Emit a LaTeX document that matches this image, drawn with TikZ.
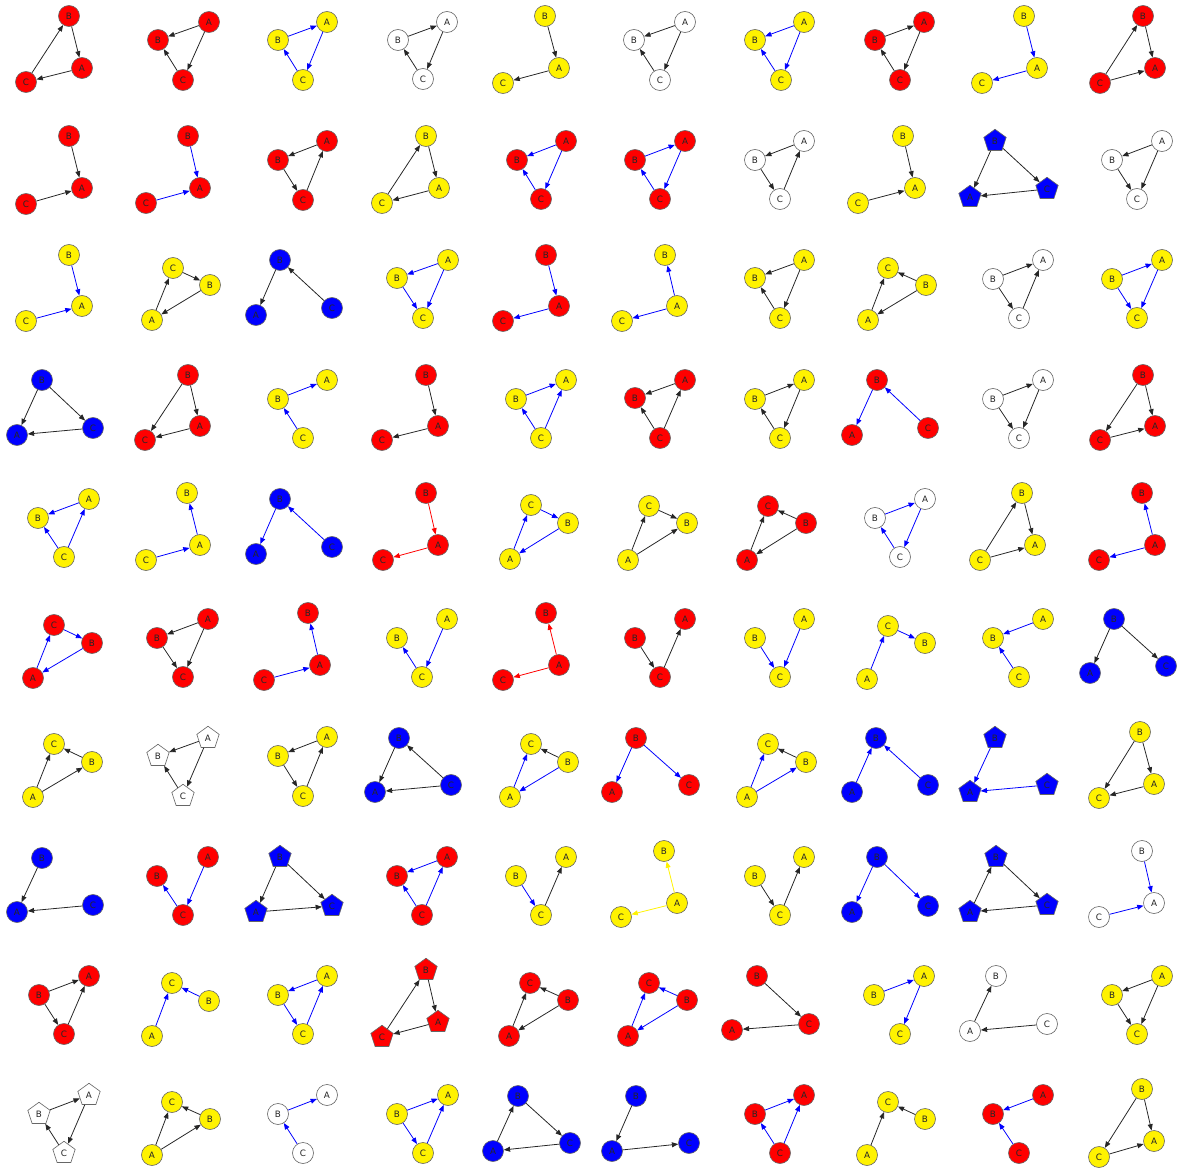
\documentclass[tikz,border=0pt]{standalone}
\usepackage{fontspec}
\setmainfont{DejaVu Sans}
\usetikzlibrary{arrows.meta, shapes.geometric}

% one small graph: name, node style, positions of A, B, C
\newcommand{\tri}[5]{%
  \node[#2] (#1A) at (#3) {A};
  \node[#2] (#1B) at (#4) {B};
  \node[#2] (#1C) at (#5) {C};}
% its arcs: name, arc style, list of from/to
\newcommand{\arcs}[3]{\foreach \p/\q in {#3} \draw[#2] (#1\p) -- (#1\q);}

\begin{document}
\begin{tikzpicture}[x=0.02cm,y=-0.02cm,
    vtx/.style={circle, draw=black!60, line width=0.35pt, minimum size=0.42cm, inner sep=0pt,
      font=\fontsize{5}{6}\selectfont, text=black!85},
    pent/.style={regular polygon, regular polygon sides=5, draw=black!60, line width=0.35pt,
      minimum size=0.47cm, inner sep=0pt, font=\fontsize{5}{6}\selectfont, text=black!85},
    nr/.style={vtx, fill=red}, ny/.style={vtx, fill=yellow},
    nw/.style={vtx, fill=white}, nb/.style={vtx, fill=blue},
    pr/.style={pent, fill=red}, pw/.style={pent, fill=white}, pb/.style={pent, fill=blue},
    arc/.style={-{Triangle[length=3.6pt,width=2.8pt]}, line width=0.45pt},
    ek/.style={arc, black!85}, eb/.style={arc, blue},
    er/.style={arc, red}, ey/.style={arc, yellow}]
  \useasboundingbox (0,0) rectangle (1180,1169);

  % row 1
  \tri{r1c1}{nr}{82,68}{69,16}{26,82}       \arcs{r1c1}{ek}{C/B,B/A,A/C}
  \tri{r1c2}{nr}{209,22}{158,40}{183,80}    \arcs{r1c2}{ek}{A/B,A/C,C/B}
  \tri{r1c3}{ny}{327,22}{278,40}{303,80}    \arcs{r1c3}{eb}{B/A,A/C,C/B}
  \tri{r1c4}{nw}{447,22}{398,40}{423,79}    \arcs{r1c4}{ek}{B/A,A/C,C/B}
  \tri{r1c5}{ny}{559,68}{545,16}{503,83}    \arcs{r1c5}{ek}{B/A,A/C}
  \tri{r1c6}{nw}{685,22}{634,40}{660,80}    \arcs{r1c6}{ek}{A/B,A/C,C/B}
  \tri{r1c7}{ny}{804,22}{755,40}{781,80}    \arcs{r1c7}{eb}{A/B,A/C,C/B}
  \tri{r1c8}{nr}{924,22}{875,40}{900,80}    \arcs{r1c8}{ek}{B/A,A/C,C/B}
  \tri{r1c9}{ny}{1037,68}{1024,16}{982,83}  \arcs{r1c9}{eb}{B/A,A/C}
  \tri{r1c10}{nr}{1155,68}{1143,16}{1100,83} \arcs{r1c10}{ek}{C/B,B/A,C/A}

  % row 2
  \tri{r2c1}{nr}{82,188}{69,136}{26,204}    \arcs{r2c1}{ek}{B/A,C/A}
  \tri{r2c2}{nr}{200,188}{188,136}{146,203} \arcs{r2c2}{eb}{B/A,C/A}
  \tri{r2c3}{nr}{327,141}{278,160}{303,200} \arcs{r2c3}{ek}{A/B,B/C,C/A}
  \tri{r2c4}{ny}{439,188}{426,136}{382,203} \arcs{r2c4}{ek}{C/B,B/A,A/C}
  \tri{r2c5}{nr}{566,141}{517,160}{541,199} \arcs{r2c5}{eb}{A/B,A/C,C/B}
  \tri{r2c6}{nr}{685,141}{635,160}{660,199} \arcs{r2c6}{eb}{B/A,A/C,C/B}
  \tri{r2c7}{nw}{804,141}{755,160}{780,199} \arcs{r2c7}{ek}{A/B,B/C,C/A}
  \tri{r2c8}{ny}{915,188}{903,136}{858,203} \arcs{r2c8}{ek}{B/A,C/A}
  \tri{r2c9}{pb}{970,197}{995,141}{1047,189} \arcs{r2c9}{ek}{B/A,B/C,C/A}
  \tri{r2c10}{nw}{1162,141}{1112,160}{1137,199} \arcs{r2c10}{ek}{A/B,A/C,B/C}

  % row 3
  \tri{r3c1}{ny}{82,306}{69,255}{26,321}    \arcs{r3c1}{eb}{B/A,C/A}
  \tri{r3c2}{ny}{152,320}{210,285}{173,268} \arcs{r3c2}{ek}{A/C,C/B,B/A}
  \tri{r3c3}{nb}{256,315}{280,260}{332,308} \arcs{r3c3}{ek}{B/A,C/B}
  \tri{r3c4}{ny}{448,260}{397,278}{423,318} \arcs{r3c4}{eb}{A/B,A/C,B/C}
  \tri{r3c5}{nr}{559,306}{546,255}{503,321} \arcs{r3c5}{eb}{B/A,A/C}
  \tri{r3c6}{ny}{677,306}{665,255}{622,321} \arcs{r3c6}{eb}{A/B,A/C}
  \tri{r3c7}{ny}{804,260}{755,278}{780,318} \arcs{r3c7}{ek}{A/B,A/C,C/B}
  \tri{r3c8}{ny}{868,320}{926,285}{888,268} \arcs{r3c8}{ek}{A/C,B/C,B/A}
  \tri{r3c9}{nw}{1043,260}{993,279}{1019,318} \arcs{r3c9}{ek}{B/A,B/C,C/A}
  \tri{r3c10}{ny}{1162,260}{1112,279}{1137,318} \arcs{r3c10}{eb}{B/A,A/C,B/C}

  % row 4
  \tri{r4c1}{nb}{17,435}{42,380}{93,428}    \arcs{r4c1}{ek}{B/A,B/C,C/A}
  \tri{r4c2}{nr}{200,426}{188,375}{145,440} \arcs{r4c2}{ek}{B/A,B/C,A/C}
  \tri{r4c3}{ny}{327,380}{278,399}{303,438} \arcs{r4c3}{eb}{B/A,C/B}
  \tri{r4c4}{nr}{438,426}{426,375}{382,440} \arcs{r4c4}{ek}{B/A,A/C}
  \tri{r4c5}{ny}{566,380}{516,399}{541,438} \arcs{r4c5}{eb}{B/A,C/B,C/A}
  \tri{r4c6}{nr}{685,380}{635,398}{660,438} \arcs{r4c6}{ek}{A/B,C/B,C/A}
  \tri{r4c7}{ny}{804,380}{755,399}{780,438} \arcs{r4c7}{ek}{B/A,A/C,C/B}
  \tri{r4c8}{nr}{852,435}{877,380}{928,428} \arcs{r4c8}{eb}{B/A,C/B}
  \tri{r4c9}{nw}{1043,380}{993,399}{1019,438} \arcs{r4c9}{ek}{B/A,B/C,A/C}
  \tri{r4c10}{nr}{1155,426}{1143,375}{1100,440} \arcs{r4c10}{ek}{B/A,B/C,C/A}

  % row 5
  \tri{r5c1}{ny}{89,499}{38,518}{64,557}    \arcs{r5c1}{eb}{A/B,C/B,C/A}
  \tri{r5c2}{ny}{200,545}{187,493}{146,560} \arcs{r5c2}{eb}{A/B,C/A}
  \tri{r5c3}{nb}{256,554}{280,499}{332,547} \arcs{r5c3}{eb}{B/A,C/B}
  \tri{r5c4}{nr}{438,545}{426,493}{383,560} \arcs{r5c4}{er}{B/A,A/C}
  \tri{r5c5}{ny}{510,559}{568,523}{531,505} \arcs{r5c5}{eb}{A/C,C/B,B/A}
  \tri{r5c6}{ny}{628,560}{687,523}{649,506} \arcs{r5c6}{ek}{A/C,C/B,A/B}
  \tri{r5c7}{nr}{747,560}{806,523}{768,506} \arcs{r5c7}{ek}{A/C,B/C,B/A}
  \tri{r5c8}{nw}{925,499}{875,518}{900,557} \arcs{r5c8}{eb}{B/A,A/C,C/B}
  \tri{r5c9}{ny}{1035,545}{1022,493}{980,560} \arcs{r5c9}{ek}{C/B,B/A,C/A}
  \tri{r5c10}{nr}{1155,545}{1142,493}{1099,560} \arcs{r5c10}{eb}{A/B,A/C}

  % row 6
  \tri{r6c1}{nr}{33,678}{92,643}{54,625}    \arcs{r6c1}{eb}{A/C,C/B,B/A}
  \tri{r6c2}{nr}{208,619}{157,638}{183,677} \arcs{r6c2}{ek}{A/B,A/C,B/C}
  \tri{r6c3}{nr}{320,665}{308,613}{264,680} \arcs{r6c3}{eb}{A/B,C/A}
  \tri{r6c4}{ny}{447,619}{397,638}{422,677} \arcs{r6c4}{eb}{A/C,C/B}
  \tri{r6c5}{nr}{559,665}{546,613}{503,680} \arcs{r6c5}{er}{A/B,A/C}
  \tri{r6c6}{nr}{685,619}{635,638}{660,677} \arcs{r6c6}{ek}{B/C,C/A}
  \tri{r6c7}{ny}{804,619}{755,638}{780,677} \arcs{r6c7}{eb}{B/C,A/C}
  \tri{r6c8}{ny}{867,679}{925,643}{888,626} \arcs{r6c8}{eb}{A/C,C/B}
  \tri{r6c9}{ny}{1043,619}{993,638}{1019,677} \arcs{r6c9}{eb}{A/B,C/B}
  \tri{r6c10}{nb}{1090,673}{1114,619}{1166,666} \arcs{r6c10}{ek}{B/A,B/C}

  % row 7
  \tri{r7c1}{ny}{33,797}{92,762}{54,744}    \arcs{r7c1}{ek}{A/C,B/C,A/B}
  \tri{r7c2}{pw}{208,738}{158,756}{183,796} \arcs{r7c2}{ek}{A/B,A/C,C/B}
  \tri{r7c3}{ny}{327,737}{278,756}{303,796} \arcs{r7c3}{ek}{A/B,B/C,C/A}
  \tri{r7c4}{nb}{375,792}{399,738}{451,785} \arcs{r7c4}{ek}{C/B,B/A,C/A}
  \tri{r7c5}{ny}{510,797}{568,762}{531,744} \arcs{r7c5}{eb}{A/C,B/A} \arcs{r7c5}{ek}{B/C}
  \tri{r7c6}{nr}{612,792}{636,738}{689,785} \arcs{r7c6}{eb}{B/A,B/C}
  \tri{r7c7}{ny}{747,797}{806,762}{768,744} \arcs{r7c7}{eb}{A/C,A/B} \arcs{r7c7}{ek}{B/C}
  \tri{r7c8}{nb}{852,792}{876,738}{928,785} \arcs{r7c8}{eb}{A/B,C/B}
  \tri{r7c9}{pb}{970,792}{995,738}{1047,785} \arcs{r7c9}{eb}{B/A,C/A}
  \tri{r7c10}{ny}{1154,784}{1140,732}{1099,798} \arcs{r7c10}{ek}{B/A,B/C,A/C}

  % row 8
  \tri{r8c1}{nb}{17,912}{42,858}{93,905}    \arcs{r8c1}{ek}{B/A,C/A}
  \tri{r8c2}{nr}{208,857}{157,876}{183,915} \arcs{r8c2}{eb}{A/C,C/B}
  \tri{r8c3}{pb}{256,912}{280,857}{332,906} \arcs{r8c3}{ek}{B/A,B/C,A/C}
  \tri{r8c4}{nr}{447,857}{397,876}{422,915} \arcs{r8c4}{eb}{A/B,C/B,C/A}
  \tri{r8c5}{ny}{566,857}{516,876}{541,915} \arcs{r8c5}{eb}{B/C} \arcs{r8c5}{ek}{C/A}
  \tri{r8c6}{ny}{677,903}{664,851}{621,917} \arcs{r8c6}{ey}{A/B,A/C}
  \tri{r8c7}{ny}{804,857}{755,876}{780,915} \arcs{r8c7}{ek}{B/C,C/A}
  \tri{r8c8}{nb}{852,912}{877,857}{928,906} \arcs{r8c8}{eb}{B/A,B/C}
  \tri{r8c9}{pb}{970,912}{996,857}{1047,905} \arcs{r8c9}{ek}{A/B,B/C,C/A}
  \tri{r8c10}{nw}{1154,903}{1142,851}{1099,917} \arcs{r8c10}{eb}{B/A,C/A}

  % row 9
  \tri{r9c1}{nr}{89,976}{39,995}{64,1034}   \arcs{r9c1}{ek}{B/A,B/C,C/A}
  \tri{r9c2}{ny}{152,1036}{209,1001}{172,983} \arcs{r9c2}{eb}{A/C,B/C}
  \tri{r9c3}{ny}{327,976}{278,995}{303,1034} \arcs{r9c3}{eb}{A/B,B/C,C/A}
  \tri{r9c4}{pr}{438,1022}{426,970}{382,1037} \arcs{r9c4}{ek}{C/B,B/A,A/C}
  \tri{r9c5}{nr}{509,1036}{568,1000}{530,983} \arcs{r9c5}{ek}{A/C,B/C,B/A}
  \tri{r9c6}{nr}{628,1036}{687,1000}{649,983} \arcs{r9c6}{eb}{A/C,B/C,B/A}
  \tri{r9c7}{nr}{732,1030}{757,976}{809,1024} \arcs{r9c7}{ek}{B/C,C/A}
  \tri{r9c8}{ny}{924,976}{874,995}{900,1034} \arcs{r9c8}{eb}{B/A,A/C}
  \tri{r9c9}{nw}{970,1031}{996,976}{1047,1024} \arcs{r9c9}{ek}{A/B,C/A}
  \tri{r9c10}{ny}{1162,976}{1112,995}{1137,1034} \arcs{r9c10}{ek}{A/B,A/C,B/C}

  % row 10
  \tri{r10c1}{pw}{89,1095}{39,1114}{64,1153} \arcs{r10c1}{ek}{B/A,A/C,C/B}
  \tri{r10c2}{ny}{152,1155}{210,1119}{172,1102} \arcs{r10c2}{ek}{A/C,B/C,A/B}
  \tri{r10c3}{nw}{327,1095}{278,1114}{303,1153} \arcs{r10c3}{eb}{B/A,C/B}
  \tri{r10c4}{ny}{448,1095}{397,1114}{423,1153} \arcs{r10c4}{eb}{B/A,B/C,C/A}
  \tri{r10c5}{nb}{493,1151}{518,1096}{570,1143} \arcs{r10c5}{ek}{A/B,B/C,C/A}
  \tri{r10c6}{nb}{612,1151}{636,1096}{689,1143} \arcs{r10c6}{ek}{B/A,A/C}
  \tri{r10c7}{nr}{804,1095}{755,1114}{780,1153} \arcs{r10c7}{eb}{B/A,C/B,C/A}
  \tri{r10c8}{ny}{867,1155}{925,1119}{888,1102} \arcs{r10c8}{ek}{A/C,B/C}
  \tri{r10c9}{nr}{1043,1095}{993,1114}{1019,1153} \arcs{r10c9}{eb}{A/B,C/B}
  \tri{r10c10}{ny}{1154,1141}{1142,1089}{1099,1157} \arcs{r10c10}{ek}{B/A,B/C,C/A}
\end{tikzpicture}
\end{document}
